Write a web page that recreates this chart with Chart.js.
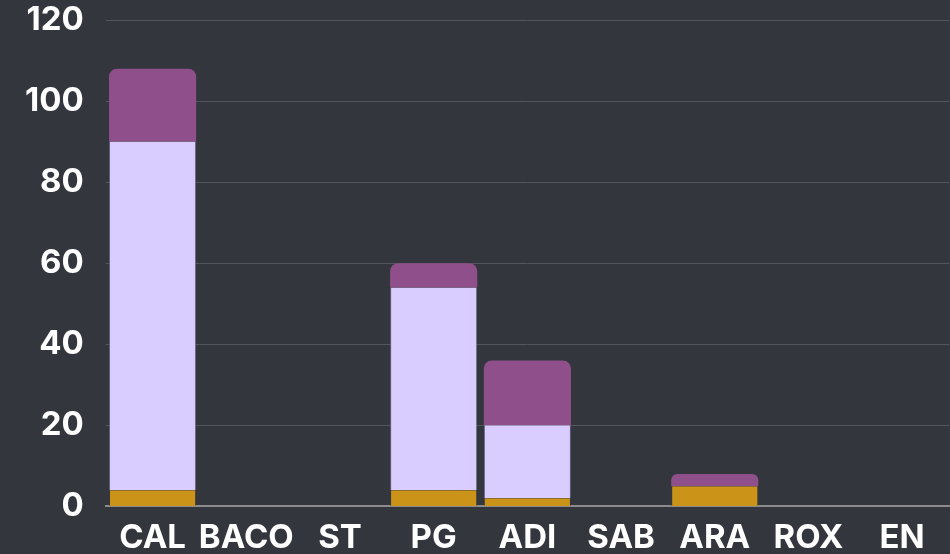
<!DOCTYPE html>
<html>
<head>
<meta charset="utf-8">
<script src="https://cdn.jsdelivr.net/npm/chart.js@4"></script>
<style>
  html, body { margin: 0; padding: 0; background: #33363d; }
  #wrap { width: 950px; height: 554px; }
</style>
</head>
<body>
<div id="wrap"><canvas id="chart"></canvas></div>
<script>
const categories = ['CAL', 'BACO', 'ST', 'PG', 'ADI', 'SAB', 'ARA', 'ROX', 'EN'];
const goldValues = [4, 0, 0, 4, 2, 0, 5, 0, 0];
const lavenderValues = [86, 0, 0, 50, 18, 0, 0, 0, 0];
const purpleValues = [18, 0, 0, 6, 16, 0, 3, 0, 0];
const yTicks = [0, 20, 40, 60, 80, 100, 120];

const tickFont = { family: 'Inter', size: 33, weight: '700', lineHeight: 1.2 };

const ctx = document.getElementById('chart').getContext('2d');
new Chart(ctx, {
    type: 'bar',
    data: {
        labels: categories,
        datasets: [
            {
                label: 'gold',
                data: goldValues,
                backgroundColor: '#cb9418',
                borderColor: 'rgba(60,60,70,0.5)',
                borderWidth: { right: 1, left: 1 },
                borderSkipped: false,
            },
            {
                label: 'lavender',
                data: lavenderValues,
                backgroundColor: '#d9ccff',
                borderColor: 'rgba(120,115,140,0.7)',
                borderWidth: { right: 1, left: 1 },
                borderSkipped: false,
            },
            {
                label: 'purple',
                data: purpleValues,
                backgroundColor: '#8e4f8a',
                borderWidth: 0,
                borderRadius: { topLeft: 8, topRight: 8, bottomLeft: 0, bottomRight: 0 },
                borderSkipped: false,
            }
        ]
    },
    options: {
        responsive: true,
        maintainAspectRatio: false,
        animation: false,
        layout: { padding: { top: 0, right: 1, left: 3, bottom: -16 } },
        plugins: {
            legend: { display: false },
            tooltip: { enabled: false },
        },
        datasets: {
            bar: { categoryPercentage: 1, barPercentage: 0.93 }
        },
        scales: {
            x: {
                stacked: true,
                grid: { display: false, drawTicks: false },
                border: { color: '#8c8c8c', width: 2 },
                ticks: { color: '#ffffff', font: tickFont, padding: 12, maxRotation: 0, autoSkip: false },
            },
            y: {
                stacked: true,
                min: 0,
                max: 120,
                afterBuildTicks: (axis) => { axis.ticks = yTicks.map(v => ({ value: v })); },
                afterFit: (axis) => { axis.paddingTop = 20; },
                grid: { color: '#53565c', lineWidth: 1, drawTicks: false },
                border: { display: false },
                ticks: { color: '#ffffff', font: tickFont, padding: 22 },
            }
        }
    }
});
</script>
</body>
</html>
